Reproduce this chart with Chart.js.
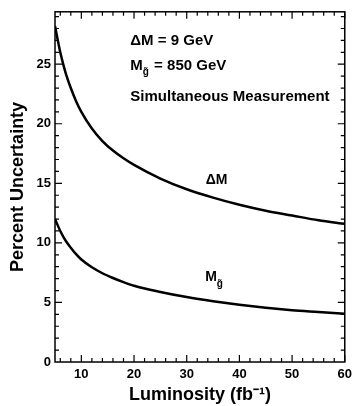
<!DOCTYPE html>
<html>
<head>
<meta charset="utf-8">
<script src="https://cdn.jsdelivr.net/npm/chart.js@4.4.1/dist/chart.umd.min.js"></script>
<style>
html, body { margin: 0; padding: 0; background: #fff; }
canvas { display: block; }
</style>
</head>
<body>
<canvas id="chart" width="357" height="406"></canvas>
<script>
// luminosity (fb^-1) and percent uncertainty
const lumi  = [5, 6, 7, 8, 9, 10, 12, 14, 16, 18, 20, 25, 30, 35, 40, 45, 50, 55, 60];
const dmErr = [28.2, 26.0, 24.3, 23.0, 21.9, 21.0, 19.6, 18.55, 17.75, 17.1, 16.55, 15.4, 14.5, 13.8, 13.2, 12.7, 12.3, 11.9, 11.6];
const mgErr = [12.0, 11.0, 10.2, 9.6, 9.05, 8.6, 7.95, 7.45, 7.05, 6.7, 6.4, 5.88, 5.45, 5.1, 4.8, 4.55, 4.35, 4.2, 4.05];

const xTicks = [10, 20, 30, 40, 50, 60];
const yTicks = [0, 5, 10, 15, 20, 25];

const FONT = '"Liberation Sans", Arial, Helvetica, sans-serif';

// box, inward ticks on all four sides, and the text labels
const frame = {
  id: "frame",
  afterDraw(chart) {
    const { ctx, chartArea: a, scales: { x, y } } = chart;
    ctx.save();
    ctx.strokeStyle = "#000";
    ctx.lineWidth = 1.5;
    ctx.strokeRect(a.left, a.top, a.right - a.left, a.bottom - a.top);

    ctx.beginPath();
    for (let v = 6; v <= 60; v += 2) {
      const px = x.getPixelForValue(v);
      const len = v % 10 === 0 ? 7 : 4;
      ctx.moveTo(px, a.bottom); ctx.lineTo(px, a.bottom - len);
      ctx.moveTo(px, a.top); ctx.lineTo(px, a.top + len);
    }
    for (let v = 1; v <= 29; v++) {
      const py = y.getPixelForValue(v);
      const len = v % 5 === 0 ? 7 : 4;
      ctx.moveTo(a.left, py); ctx.lineTo(a.left + len, py);
      ctx.moveTo(a.right, py); ctx.lineTo(a.right - len, py);
    }
    ctx.lineWidth = 1.2;
    ctx.stroke();

    ctx.fillStyle = "#000";
    ctx.textBaseline = "middle";
    ctx.textAlign = "left";

    const big = "bold 15px " + FONT;
    const small = "bold 10px " + FONT;
    const tx = x.getPixelForValue(19.3);

    ctx.font = big;
    ctx.fillText("\u0394M = 9 GeV", tx, y.getPixelForValue(27.0));
    drawMg(ctx, tx, y.getPixelForValue(24.9), big, small, " = 850 GeV");
    ctx.font = big;
    ctx.fillText("Simultaneous Measurement", tx, y.getPixelForValue(22.25));

    const lab = "bold 14px " + FONT;
    ctx.font = lab;
    ctx.fillText("\u0394M", x.getPixelForValue(33.6), y.getPixelForValue(15.25));
    drawMg(ctx, x.getPixelForValue(33.5), y.getPixelForValue(7.1), lab, "bold 10px " + FONT, "");
    ctx.restore();
  }
};

function drawMg(ctx, px, py, font, subFont, rest) {
  ctx.font = font;
  ctx.fillText("M", px, py);
  let w = ctx.measureText("M").width;
  ctx.font = subFont;
  ctx.fillText("g\u0303", px + w, py + 7);
  w += ctx.measureText("g").width + 1;
  ctx.font = font;
  if (rest) ctx.fillText(rest, px + w, py);
}

new Chart(document.getElementById("chart"), {
  type: "line",
  data: {
    datasets: [
      { label: "dM", data: lumi.map((l, i) => ({ x: l, y: dmErr[i] })) },
      { label: "Mg", data: lumi.map((l, i) => ({ x: l, y: mgErr[i] })) }
    ]
  },
  options: {
    responsive: false,
    animation: false,
    layout: { padding: { top: 9, right: 9, left: 0, bottom: 0 } },
    elements: {
      line: { borderColor: "#000", borderWidth: 2.5, cubicInterpolationMode: "monotone", fill: false },
      point: { radius: 0 }
    },
    plugins: { legend: { display: false }, tooltip: { enabled: false } },
    scales: {
      x: {
        type: "linear",
        min: 5,
        max: 60,
        afterBuildTicks: s => { s.ticks = xTicks.map(v => ({ value: v })); },
        afterFit: s => { s.height = 44; },
        grid: { display: false, drawTicks: false, tickLength: 0 },
        border: { display: false },
        ticks: { padding: 5, color: "#000", font: { family: FONT, size: 13, weight: "bold" } },
        title: {
          display: true,
          text: "Luminosity (fb\u207B\u00B9)",
          color: "#000",
          font: { family: FONT, size: 18, weight: "bold" },
          padding: { top: 0, bottom: 0 }
        }
      },
      y: {
        min: 0,
        max: 29.4,
        afterBuildTicks: s => { s.ticks = yTicks.map(v => ({ value: v })); },
        afterFit: s => { s.width = 55; },
        grid: { display: false, drawTicks: false, tickLength: 0 },
        border: { display: false },
        ticks: { padding: 4, color: "#000", font: { family: FONT, size: 13, weight: "bold" } },
        title: {
          display: true,
          text: "Percent Uncertainty",
          color: "#000",
          font: { family: FONT, size: 18, weight: "bold" },
          padding: { top: 7, bottom: 0 }
        }
      }
    }
  },
  plugins: [frame]
});
</script>
</body>
</html>
